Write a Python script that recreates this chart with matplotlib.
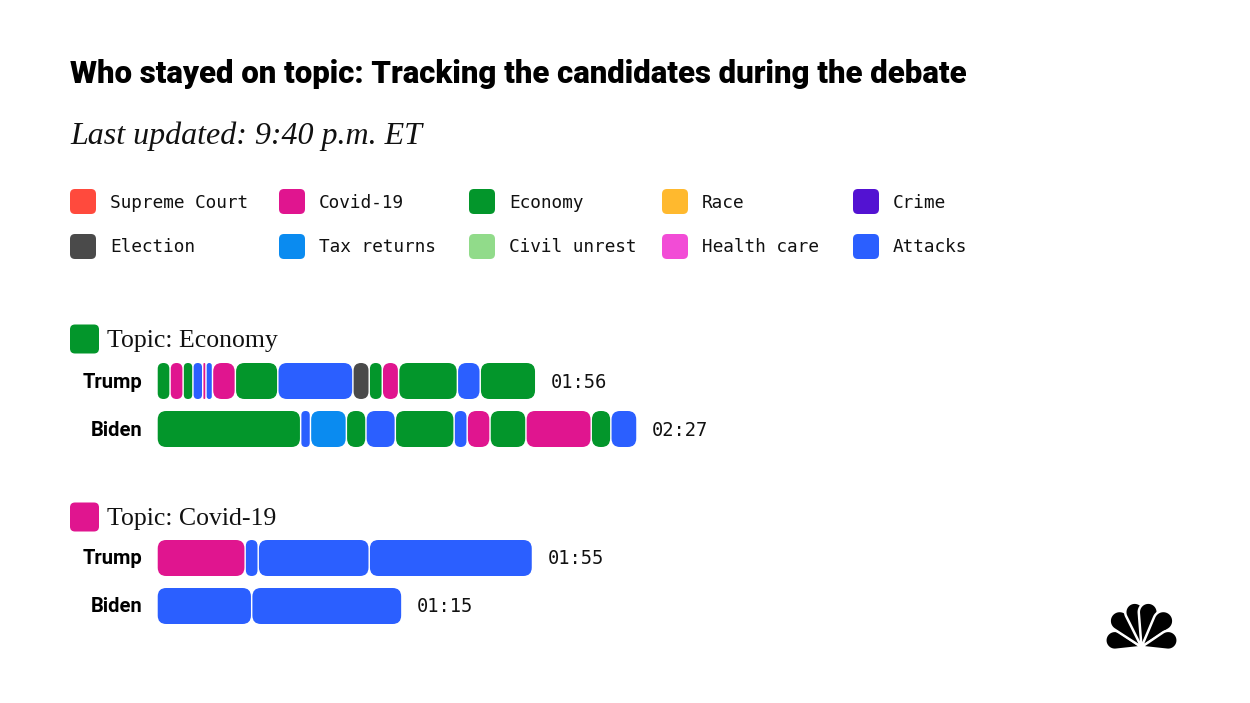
import matplotlib.pyplot as plt
from matplotlib.patches import FancyBboxPatch, Polygon
import numpy as np

# topic legend
topics = ["Supreme Court", "Covid-19", "Economy", "Race", "Crime",
          "Election", "Tax returns", "Civil unrest", "Health care", "Attacks"]
colors = ["#FF4A3D", "#E0158F", "#03962B", "#FFB92E", "#5312D2",
          "#4A4A4A", "#0A8BF0", "#91DB8A", "#F24CD6", "#2B5FFF"]
col = dict(zip(topics, colors))

# speaking segments (topic, seconds) for each block
econ_trump_topics = ["Economy", "Covid-19", "Economy", "Attacks", "Covid-19", "Attacks",
                     "Covid-19", "Economy", "Attacks", "Election", "Economy", "Covid-19",
                     "Economy", "Attacks", "Economy"]
econ_trump_secs = [4, 4, 3, 3, 1, 2, 7, 13, 23, 5, 4, 5, 18, 7, 17]
econ_biden_topics = ["Economy", "Attacks", "Tax returns", "Economy", "Attacks", "Economy",
                     "Attacks", "Covid-19", "Economy", "Covid-19", "Economy", "Attacks"]
econ_biden_secs = [44, 3, 11, 6, 9, 18, 4, 7, 11, 20, 6, 8]
covid_trump_topics = ["Covid-19", "Attacks", "Attacks", "Attacks"]
covid_trump_secs = [27, 4, 34, 50]
covid_biden_topics = ["Attacks", "Attacks"]
covid_biden_secs = [29, 46]

blocks = [("Economy", [("Trump", econ_trump_topics, econ_trump_secs),
                       ("Biden", econ_biden_topics, econ_biden_secs)]),
          ("Covid-19", [("Trump", covid_trump_topics, covid_trump_secs),
                        ("Biden", covid_biden_topics, covid_biden_secs)])]

W, H = 1250, 703
PX = 3.265  # pixels per second
X0 = 157

fig = plt.figure(figsize=(W / 100, H / 100), dpi=100)
ax = fig.add_axes([0, 0, 1, 1])
ax.set_xlim(0, W)
ax.set_ylim(H, 0)
ax.axis('off')

bx = fig.add_axes([X0 / W, 0, (W - X0) / W, 1])
bx.set_xlim(0, (W - X0) / PX)
bx.set_ylim(H, 0)
bx.axis('off')

sans = ["Roboto", "DejaVu Sans"]
mono = ["DejaVu Sans Mono"]
serif = ["Liberation Serif", "DejaVu Serif"]

ax.text(70, 83, "Who stayed on topic: Tracking the candidates during the debate",
        family=sans, weight="heavy", fontsize=22.4, va="baseline", color="#000000")
ax.text(70, 144, "Last updated: 9:40 p.m. ET", family=serif, style="italic",
        fontsize=23, va="baseline", color="#111111")

# legend
leg_x = [70, 279, 469, 662, 853]
leg_y = [201.5, 246.5]
for i, t in enumerate(topics):
    x = leg_x[i % 5]
    y = leg_y[i // 5]
    ax.add_patch(FancyBboxPatch((x, y - 12.5), 26, 25, boxstyle="round,pad=0,rounding_size=5",
                                fc=col[t], ec="none"))
    ax.text(x + 40, y + 6, t, family=mono, fontsize=12.8, va="baseline", color="#111111")


def draw_row(yc, seg_topics, seg_secs, h=36, gap=0.22, rr=2.6):
    start = 0
    for t, s in zip(seg_topics, seg_secs):
        w = s - 2 * gap
        r = min(rr, w / 2)
        bx.add_patch(FancyBboxPatch((start + gap, yc - h / 2), w, h,
                                    boxstyle=f"round,pad=0,rounding_size={r}",
                                    mutation_aspect=PX, fc=col[t], ec="none"))
        start += s
    total = sum(seg_secs)
    bx.text(total + 15 / PX, yc + 6.5, f"{total // 60:02d}:{total % 60:02d}",
            family=mono, fontsize=13.5, va="baseline", color="#111111")


head_y = [339, 517]
row_y = [[381, 429], [558, 606]]
for (topic, rows), hy, ry in zip(blocks, head_y, row_y):
    ax.add_patch(FancyBboxPatch((70, hy - 14.5), 29, 29, boxstyle="round,pad=0,rounding_size=5",
                                fc=col[topic], ec="none"))
    ax.text(107, hy + 8, f"Topic: {topic}", family=serif, fontsize=18.5,
            va="baseline", color="#111111")
    for (name, tps, secs), yc in zip(rows, ry):
        ax.text(142, yc + 6.5, name, family=sans, weight="bold", fontsize=14.5,
                ha="right", va="baseline", color="#000000")
        draw_row(yc, tps, secs)


# peacock logo: six teardrop feathers fanning out from one base point
def feather(base, ang, L, R):
    u = np.array([np.cos(np.deg2rad(ang)), -np.sin(np.deg2rad(ang))])
    d = L - R
    c = np.array(base) + u * d
    alpha = np.arccos(min(R / d, 0.999))
    th0 = np.arctan2(-u[1], -u[0])
    th = np.linspace(th0 + alpha, th0 + 2 * np.pi - alpha, 40)
    pts = np.column_stack([c[0] + R * np.cos(th), c[1] + R * np.sin(th)])
    return np.vstack([base, pts])


base = (1141.5, 647)
angles = [166, 130, 101, 79, 50, 14]
lengths = [37, 44, 45, 45, 44, 37]
radii = [9.5, 10, 9.5, 9.5, 10, 9.5]
for a, L, R in zip(angles, lengths, radii):
    ax.add_patch(Polygon(feather(base, a, L, R), closed=True, fc="black", ec="white", lw=1.8))

fig.savefig("out.png", dpi=100, facecolor="white")
